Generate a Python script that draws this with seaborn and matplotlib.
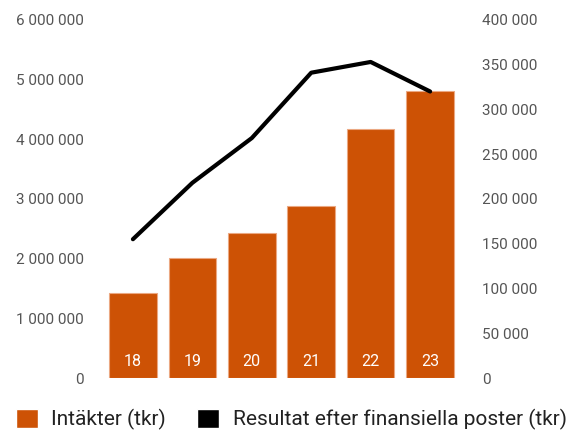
import matplotlib
matplotlib.use('Agg')
import matplotlib.pyplot as plt
import matplotlib.ticker as mticker
from matplotlib.patches import Patch
import seaborn as sns
import numpy as np
import pandas as pd

# --- Data ---
years = ['18', '19', '20', '21', '22', '23']
intakter = [1420000, 2010000, 2430000, 2880000, 4170000, 4810000]
resultat = [155000, 218000, 268000, 341000, 353000, 320000]

BAR_COLOR = '#CD5205'
TEXT_COLOR = '#555555'

sns.set_style('white')
plt.rcParams['font.family'] = ['Roboto', 'DejaVu Sans']

df = pd.DataFrame({'year': years, 'intakter': intakter, 'resultat': resultat})
df['pos'] = np.arange(len(df))


def space_fmt(x, pos):
    return f'{int(x):,}'.replace(',', ' ')


fig = plt.figure(figsize=(5.67, 4.32), dpi=100)
ax = fig.add_axes([0.182, 0.125, 0.629, 0.829])

sns.barplot(data=df, x='year', y='intakter', color=BAR_COLOR, width=0.8,
            edgecolor='#EBA882', linewidth=0.8, saturation=1, ax=ax)
ax.set_xlim(-0.5, 5.5)
ax.set_ylim(0, 6000000)
ax.set_yticks(np.arange(0, 6000001, 1000000))
ax.yaxis.set_major_formatter(mticker.FuncFormatter(space_fmt))
ax.set_xticks([])
ax.set_xlabel('')
ax.set_ylabel('')
ax.tick_params(axis='y', length=0, labelsize=11, labelcolor=TEXT_COLOR, pad=14)

# year labels inside bars
for i, y in enumerate(df['year']):
    ax.text(i, 270000, y, color='white', ha='center', va='center', fontsize=11.5)

ax2 = ax.twinx()
sns.lineplot(data=df, x='pos', y='resultat', color='black', linewidth=3, ax=ax2)
ax2.set_xlim(-0.5, 5.5)
ax2.set_ylim(0, 400000)
ax2.set_yticks(np.arange(0, 400001, 50000))
ax2.yaxis.set_major_formatter(mticker.FuncFormatter(space_fmt))
ax2.set_ylabel('')
ax2.tick_params(axis='y', length=0, labelsize=11, labelcolor=TEXT_COLOR, pad=16)

for a in (ax, ax2):
    for s in a.spines.values():
        s.set_visible(False)

handles = [Patch(facecolor=BAR_COLOR, label='Intäkter (tkr)'),
           Patch(facecolor='black', label='Resultat efter finansiella poster (tkr)')]
fig.legend(handles=handles, loc='lower left', bbox_to_anchor=(0.028, 0.004), ncol=2,
           frameon=False, fontsize=15, handlelength=1.05, handleheight=1.05,
           columnspacing=1.5, handletextpad=0.65, borderpad=0, borderaxespad=0,
           labelcolor='#222222')

fig.savefig('out.png', dpi=100)
